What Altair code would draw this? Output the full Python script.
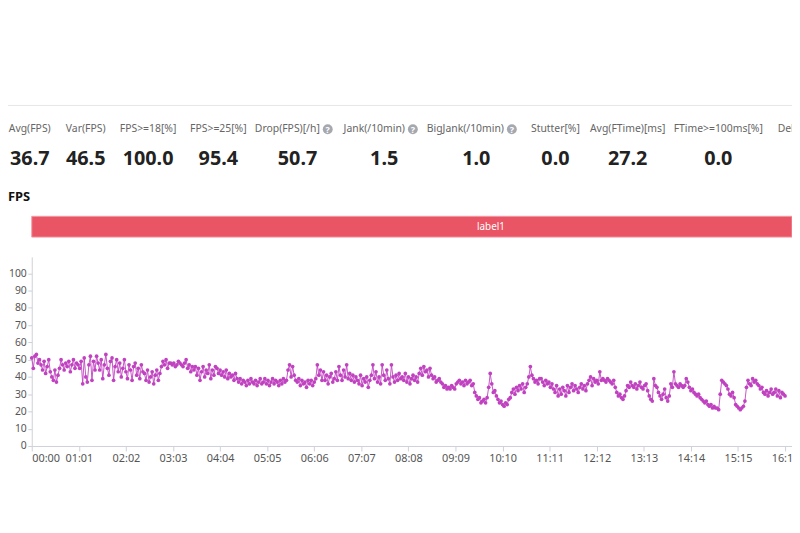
import altair as alt
import pandas as pd

# ---------------- data ----------------
stat_labels = ["Avg(FPS)", "Var(FPS)", "FPS>=18[%]", "FPS>=25[%]", "Drop(FPS)[/h]",
               "Jank(/10min)", "BigJank(/10min)", "Stutter[%]", "Avg(FTime)[ms]",
               "FTime>=100ms[%]", "Delta(FTime)>100ms[/h]"]
stat_values = [36.7, 46.5, 100.0, 95.4, 50.7, 1.5, 1.0, 0.0, 27.2, 0.0, None]
stat_help = [False, False, False, False, True, True, True, False, False, False, False]

# FPS samples, one every 2 s, one row per minute
fps = [
    51, 45, 52, 53, 48, 50, 47, 44, 49, 42, 46, 50, 43, 40, 38, 44, 37, 41, 45, 50, 47, 44, 48, 46, 49, 43, 47, 50, 45, 48,
    47, 45, 49, 36, 51, 40, 37, 47, 52, 38, 49, 44, 52, 48, 44, 50, 39, 47, 53, 45, 41, 49, 51, 38, 46, 50, 43, 48, 40, 45,
    50, 43, 39, 47, 44, 38, 46, 48, 41, 45, 39, 47, 43, 42, 38, 44, 37, 40, 43, 36, 41, 44, 38, 42, 46, 49, 47, 50, 45, 48,
    48, 47, 48, 46, 47, 49, 48, 47, 46, 48, 50, 45, 47, 43, 46, 44, 46, 41, 45, 38, 43, 46, 40, 44, 42, 47, 39, 44, 41, 46,
    45, 42, 44, 41, 43, 40, 44, 39, 42, 40, 41, 38, 42, 39, 37, 39, 36, 38, 37, 35, 38, 36, 39, 37, 36, 38, 35, 37, 39, 36,
    37, 39, 36, 38, 35, 37, 39, 36, 38, 37, 35, 38, 36, 39, 37, 38, 44, 47, 40, 46, 41, 38, 37, 39, 35, 38, 36, 37, 34, 38,
    36, 38, 35, 37, 39, 47, 41, 44, 38, 43, 38, 41, 36, 40, 42, 37, 39, 43, 38, 46, 41, 38, 44, 40, 47, 39, 42, 38, 41, 37,
    40, 38, 36, 41, 35, 39, 37, 40, 34, 38, 41, 47, 39, 43, 37, 40, 36, 47, 41, 38, 44, 39, 36, 47, 40, 37, 41, 38, 42, 39,
    40, 38, 42, 37, 40, 36, 39, 41, 38, 40, 37, 42, 45, 41, 46, 43, 44, 40, 45, 41, 39, 40, 37, 38, 39, 37, 36, 34, 35, 33,
    34, 33, 35, 34, 33, 36, 37, 38, 36, 37, 35, 38, 36, 37, 38, 35, 36, 31, 29, 27, 28, 25, 26, 27, 25, 28, 34, 42, 36, 31,
    32, 29, 27, 25, 26, 24, 23, 25, 24, 27, 28, 31, 33, 30, 34, 32, 35, 33, 36, 31, 34, 36, 40, 46, 41, 39, 37, 38, 36, 39,
    39, 37, 35, 38, 36, 37, 34, 36, 33, 31, 35, 29, 33, 30, 34, 32, 29, 35, 31, 34, 36, 32, 35, 33, 31, 34, 36, 33, 35, 32,
    36, 38, 40, 35, 39, 37, 38, 36, 43, 38, 39, 38, 37, 39, 38, 37, 36, 38, 34, 31, 29, 30, 28, 27, 29, 32, 35, 34, 37, 35,
    34, 36, 33, 35, 37, 34, 33, 35, 36, 32, 29, 27, 26, 39, 35, 34, 31, 29, 27, 30, 33, 28, 26, 29, 36, 34, 43, 36, 35, 34,
    36, 35, 34, 35, 39, 37, 34, 32, 33, 31, 30, 29, 30, 28, 27, 26, 25, 26, 24, 23, 24, 22, 23, 22, 22, 21, 30, 38, 37, 36,
    35, 33, 30, 29, 31, 28, 24, 23, 22, 21, 22, 23, 26, 34, 38, 36, 35, 39, 37, 38, 36, 35, 33, 34, 31, 30, 32, 29, 31, 33,
    30, 31, 33, 29, 32, 28, 31, 30, 29,
]
sample_step_s = 2
x_tick_seconds = [0, 61, 122, 183, 244, 305, 366, 427, 488, 549, 610, 671, 732, 793, 854, 915, 976]
y_tick_values = [0, 10, 20, 30, 40, 50, 60, 70, 80, 90, 100]
label_names = ["label1"]
label_start_s = [0]
label_end_s = [1190]

# ---------------- layout ----------------
PAD_L, PAD_T, PAD_B = 24, 249, 40
W, H = 768, 191
X_MAX, Y_MAX = 985, 109.5
col_widths = [42, 39, 55, 55, 73, 70, 84, 44, 70, 81, 125]
col_gap = 16
first_col_page_x = 9
origin_page_x = 8 + PAD_L
FONT = "Noto Sans"
LINE_COLOR = "#C042C0"
AXIS_COLOR = "#CDD0D8"

lefts = []
cur = first_col_page_x
for w in col_widths:
    lefts.append(cur)
    cur += w + col_gap

stats = pd.DataFrame({
    "label": stat_labels,
    "value": stat_values,
    "help": stat_help,
})
stats["x_value"] = [l + w / 2 - origin_page_x for l, w in zip(lefts, col_widths)]
stats["x_icon"] = [l + w - 6 - origin_page_x for l, w in zip(lefts, col_widths)]
stats["x_label_right"] = stats["x_icon"] - 8
stats["q"] = "?"

series = pd.DataFrame({
    "t": [i * sample_step_s for i in range(len(fps))],
    "fps": fps,
})
labels = pd.DataFrame({"name": label_names, "start": label_start_s, "end": label_end_s})

xscale = alt.Scale(domain=[0, X_MAX], clamp=True, nice=False, zero=False)
yscale = alt.Scale(domain=[0, Y_MAX], nice=False)

mmss = ("(floor(datum.value/60) < 10 ? '0' : '') + floor(datum.value/60) + ':' + "
        "(datum.value % 60 < 10 ? '0' : '') + (datum.value % 60)")

x_axis = alt.Axis(
    values=x_tick_seconds, labelExpr=mmss, title=None, grid=False,
    domainColor=AXIS_COLOR, tickColor=AXIS_COLOR, tickSize=5,
    labelColor="#555555", labelFontSize=11, labelFont=FONT, labelPadding=2,
    labelFlush=False,
    labelAlign={"condition": {"test": "datum.value === 0", "value": "left"}, "value": "center"},
)
y_axis = alt.Axis(
    values=y_tick_values, title=None, grid=False,
    domainColor=AXIS_COLOR, tickColor=AXIS_COLOR, tickSize=4,
    labelColor="#555555", labelFontSize=10.5, labelFont=FONT, labelPadding=1.5,
)

top_rule = alt.Chart(pd.DataFrame({"k": [0]})).mark_rule(color="#E6E6E6", strokeWidth=1).encode(
    x=alt.value(-PAD_L), x2=alt.value(W), y=alt.value(-153)
)

stat_label_layer = alt.Chart(stats).transform_filter("!datum.help").mark_text(
    font=FONT, fontSize=10.5, color="#666666", align="center", baseline="middle"
).encode(
    x=alt.X("x_value:Q", scale=None, axis=None), y=alt.value(-129), text="label:N"
)

stat_help_label_layer = alt.Chart(stats).transform_filter("datum.help").mark_text(
    font=FONT, fontSize=10.5, color="#666666", align="right", baseline="middle"
).encode(
    x=alt.X("x_label_right:Q", scale=None, axis=None), y=alt.value(-129), text="label:N"
)

stat_value_layer = alt.Chart(stats).transform_filter("isValid(datum.value)").mark_text(
    font=FONT, fontSize=20, fontWeight="bold", color="#222222", align="center", baseline="middle"
).encode(
    x=alt.X("x_value:Q", scale=None, axis=None), y=alt.value(-99), text=alt.Text("value:Q", format=".1f")
)

icon_layer = alt.Chart(stats).transform_filter("datum.help").mark_circle(
    size=100, color="#A6A8B0", opacity=1
).encode(x=alt.X("x_icon:Q", scale=None, axis=None), y=alt.value(-129))

icon_text_layer = alt.Chart(stats).transform_filter("datum.help").mark_text(
    font=FONT, fontSize=9, fontWeight="bold", color="white", align="center", baseline="middle"
).encode(x=alt.X("x_icon:Q", scale=None, axis=None), y=alt.value(-128.5), text="q:N")

title_layer = alt.Chart(pd.DataFrame({"title": ["FPS"]})).mark_text(
    font=FONT, fontSize=13, fontWeight="bold", color="#111111", align="left", baseline="middle"
).encode(x=alt.value(-PAD_L), y=alt.value(-60), text="title:N")

line_layer = alt.Chart(series).mark_line(color=LINE_COLOR, strokeWidth=1, opacity=0.9).encode(
    x=alt.X("t:Q", scale=xscale, axis=x_axis),
    y=alt.Y("fps:Q", scale=yscale, axis=y_axis),
)
point_layer = alt.Chart(series).mark_circle(color=LINE_COLOR, size=14, opacity=1).encode(
    x=alt.X("t:Q", scale=xscale, axis=x_axis),
    y=alt.Y("fps:Q", scale=yscale, axis=y_axis),
)

band_layer = alt.Chart(labels).mark_rect(color="#E95565", stroke="#F39AA4", strokeWidth=1).encode(
    x=alt.X("start:Q", scale=xscale, axis=x_axis), x2="end:Q",
    y=alt.value(-41), y2=alt.value(-20)
)

band_text_layer = alt.Chart(labels).transform_calculate(
    mid="(datum.start + datum.end) / 2"
).mark_text(font=FONT, fontSize=10, color="white", align="center", baseline="middle").encode(
    x=alt.X("mid:Q", scale=xscale, axis=x_axis), y=alt.value(-30), text="name:N"
)

chart = alt.layer(
    line_layer, point_layer, band_layer, band_text_layer,
    top_rule, stat_label_layer, stat_help_label_layer, stat_value_layer,
    icon_layer, icon_text_layer, title_layer,
).properties(
    width=W, height=H,
    autosize=alt.AutoSizeParams(type="none"),
    padding={"left": PAD_L, "top": PAD_T, "right": 0, "bottom": PAD_B},
    background="white",
).configure_view(stroke=None)

chart.save("out.html", embed_options={"renderer": "svg", "actions": False})
